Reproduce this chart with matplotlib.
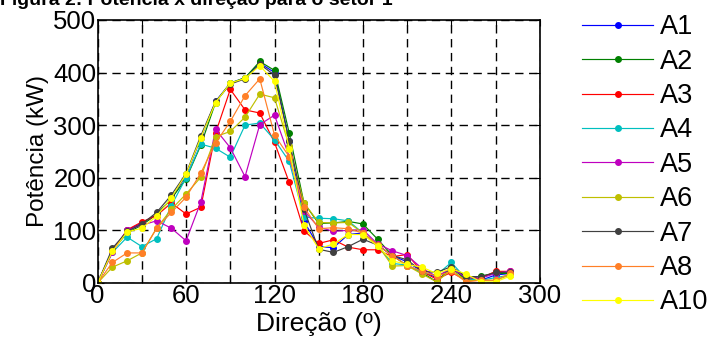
import matplotlib
matplotlib.use("Agg")
import matplotlib.pyplot as plt
import numpy as np

plt.rcParams['font.family'] = ['Liberation Sans', 'DejaVu Sans']

direcao = list(range(0, 290, 10))  # graus

labels = ['A1', 'A2', 'A3', 'A4', 'A5', 'A6', 'A7', 'A8', 'A10']
colors = ['#0000ff', '#008000', '#ff0000', '#00bfbf', '#bf00bf',
          '#bfbf00', '#404040', '#ff7f27', '#ffff00']

a1 = [0, 60, 100, 114, 130, 160, 205, 275, 345, 380, 390, 418, 400, 270, 117,
      69, 67, 92, 95, 72, 52, 40, 22, 10, 28, 8, 5, 15, 18]
a2 = [0, 62, 95, 110, 130, 160, 198, 262, 343, 380, 390, 421, 404, 285, 152,
      113, 114, 117, 112, 83, 52, 33, 20, 2, 30, 5, 13, 18, 18]
a3 = [0, 60, 101, 116, 128, 152, 131, 144, 285, 368, 329, 323, 267, 191, 99,
      75, 82, 68, 63, 63, 50, 54, 22, 7, 20, 5, 9, 22, 22]
a4 = [0, 58, 87, 69, 84, 147, 200, 264, 256, 239, 300, 304, 272, 231, 125,
      123, 122, 118, 95, 70, 37, 34, 20, 15, 39, 8, 5, 10, 15]
a5 = [0, 58, 100, 110, 118, 104, 80, 154, 292, 257, 202, 301, 319, 240, 137,
      106, 98, 100, 101, 74, 61, 52, 28, 12, 28, 10, 9, 18, 23]
a6 = [0, 30, 42, 57, 104, 140, 169, 201, 278, 288, 315, 359, 352, 260, 152,
      115, 114, 115, 95, 72, 32, 33, 17, 2, 25, 4, 5, 5, 15]
a7 = [0, 66, 98, 112, 134, 167, 208, 280, 345, 378, 388, 416, 395, 270, 140,
      64, 58, 69, 83, 72, 52, 44, 22, 20, 31, 12, 12, 20, 20]
a8 = [0, 39, 57, 57, 104, 134, 163, 209, 266, 307, 356, 388, 281, 240, 144,
      103, 105, 103, 95, 72, 52, 33, 22, 13, 22, 2, 5, 5, 18]
a10 = [0, 60, 97, 104, 127, 162, 207, 276, 343, 380, 389, 413, 383, 255, 110,
       65, 74, 92, 92, 70, 42, 35, 30, 18, 27, 17, 2, 2, 13]
series = [a1, a2, a3, a4, a5, a6, a7, a8, a10]

fig = plt.figure(figsize=(7.13, 3.38), dpi=100)
ax = fig.add_axes([0.137, 0.163, 0.62, 0.778])

for vals, lab, col in zip(series, labels, colors):
    ax.plot(direcao, vals, color=col, lw=0.85, marker='o', ms=4,
            mec=col, mfc=col, label=lab)

ax.set_xlim(0, 300)
ax.set_ylim(0, 500)
ax.set_xticks(np.arange(0, 301, 60))
ax.set_xticks(np.arange(30, 300, 60), minor=True)
ax.set_yticks(np.arange(0, 501, 100))
ax.grid(True, which='both', color='black', ls=(0, (6, 4)), lw=1.0)
ax.tick_params(which='both', direction='in', top=True, right=True,
               length=4, width=0.8, labelsize=18.5, pad=1)
for s in ax.spines.values():
    s.set_linewidth(1.2)

ax.set_xlabel('Direção (º)', fontsize=19, labelpad=3)
ax.set_ylabel('Potência (kW)', fontsize=17.5, labelpad=3)

fig.legend(loc='upper left', bbox_to_anchor=(0.801, 0.99), frameon=False,
           fontsize=19.5, handlelength=2.63, handletextpad=0.26,
           labelspacing=0.31, borderpad=0.4, borderaxespad=0)

fig.text(0.0, 1 - 5 / 338, 'Figura 2: Potência x direção para o setor 1',
         fontsize=14, fontweight='bold', va='baseline')

fig.savefig('out.png', dpi=100)
